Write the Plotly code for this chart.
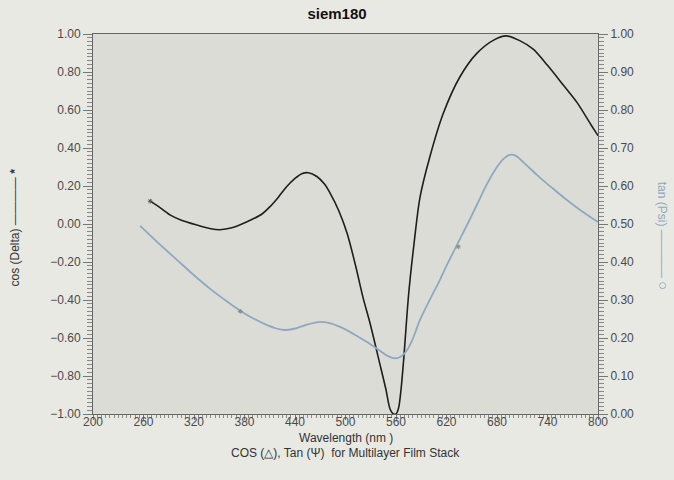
import plotly.graph_objects as go

# cos(Delta) curve (left axis)
cos_wl = [268, 280, 292, 305, 323, 340, 351, 365, 383, 400, 410, 420, 430, 440, 448, 456, 466, 475,
          482, 492, 502, 512, 521, 529, 541, 548, 553, 557, 560, 563, 566, 569, 575, 581, 588.5,
          600, 616, 636, 656, 676, 691, 707, 723, 740, 759, 775, 792, 800]
cos_val = [0.12, 0.085, 0.047, 0.02, -0.005, -0.025, -0.03, -0.02, 0.012, 0.05, 0.09, 0.14, 0.196,
           0.24, 0.265, 0.27, 0.25, 0.21, 0.16, 0.07, -0.05, -0.22, -0.39, -0.52, -0.74, -0.87,
           -0.975, -1.00, -1.00, -0.97, -0.87, -0.72, -0.37, -0.12, 0.14,
           0.35, 0.58, 0.775, 0.898, 0.968, 0.99, 0.965, 0.92, 0.835, 0.73, 0.64, 0.52, 0.465]

# tan(Psi) curve (right axis)
tan_wl = [256, 280, 300, 320, 340, 360, 375, 390, 405, 418, 428, 440, 455, 468, 480, 495, 510, 525,
          540, 550, 557, 563, 568, 573, 580, 588, 600, 610, 620, 632, 645, 656, 668, 680, 688, 695,
          702, 715, 727, 739, 751, 763, 780, 800]
tan_val = [0.495, 0.445, 0.405, 0.365, 0.328, 0.295, 0.272, 0.252, 0.236, 0.225, 0.221, 0.225,
           0.236, 0.242, 0.24, 0.228, 0.21, 0.19, 0.168, 0.153, 0.147, 0.148, 0.155, 0.168, 0.198,
           0.245, 0.30, 0.343, 0.39, 0.443, 0.50, 0.55, 0.605, 0.65, 0.672, 0.682, 0.68, 0.655,
           0.63, 0.607, 0.585, 0.563, 0.535, 0.505]

# sparse point markers
cos_mark_wl = [268]
cos_mark_val = [0.12]
tan_mark_wl = [375, 634]
tan_mark_val = [0.27, 0.44]

FONT = "Liberation Sans Narrow, Liberation Sans, Arial, sans-serif"
BLUE = "#8ea8c0"
PAPER = "#e9e9e4"

fig = go.Figure()
fig.add_trace(go.Scatter(x=cos_wl, y=cos_val, mode="lines",
                         line=dict(color="#1e1e1e", width=1.6, shape="spline", smoothing=0.8),
                         yaxis="y", showlegend=False))
fig.add_trace(go.Scatter(x=tan_wl, y=tan_val, mode="lines",
                         line=dict(color=BLUE, width=1.8, shape="spline", smoothing=0.8),
                         yaxis="y2", showlegend=False))
fig.add_trace(go.Scatter(x=cos_mark_wl, y=cos_mark_val, mode="markers",
                         marker=dict(symbol="asterisk", size=4, color="#555", line=dict(width=1, color="#555")),
                         yaxis="y", showlegend=False))
fig.add_trace(go.Scatter(x=tan_mark_wl, y=tan_mark_val, mode="markers",
                         marker=dict(symbol="asterisk", size=4, color="#8a8a8a", line=dict(width=1, color="#8a8a8a")),
                         yaxis="y2", showlegend=False))

tickfont = dict(family=FONT, size=12, color="#4a4a4a")

fig.update_layout(
    width=674, height=480,
    margin=dict(l=93, r=76, t=34, b=66),
    paper_bgcolor=PAPER,
    plot_bgcolor="#dcdcd7",
    title=dict(text="<b>siem180</b>", x=0.5, xanchor="center", y=0.972, yanchor="middle",
               font=dict(family=FONT, size=15, color="#111")),
    xaxis=dict(range=[200, 800], tick0=200, dtick=60, showgrid=False, zeroline=False,
               showline=True, linecolor="#666", linewidth=1, mirror=True,
               ticks="outside", ticklen=5, tickcolor="#777", tickfont=tickfont,
               ticklabelstandoff=-8,
               minor=dict(dtick=5, ticks="outside", ticklen=3, tickcolor="#888", showgrid=False)),
    yaxis=dict(range=[-1, 1], dtick=0.2, tickformat=".2f", showgrid=False, zeroline=False,
               showline=True, linecolor="#666", linewidth=1,
               ticks="outside", ticklen=9, tickcolor="#777", tickfont=tickfont,
               minor=dict(dtick=0.02, ticks="outside", ticklen=5, tickcolor="#888", showgrid=False)),
    yaxis2=dict(range=[0, 1], dtick=0.1, tickformat=".2f", overlaying="y", side="right",
                showgrid=False, zeroline=False, showline=True, linecolor="#666", linewidth=1,
                ticks="outside", ticklen=9, tickcolor="#777", tickfont=tickfont,
                minor=dict(dtick=0.01, ticks="outside", ticklen=5, tickcolor="#888", showgrid=False)),
    annotations=[
        dict(text="Wavelength (nm )", xref="paper", yref="paper", x=0.5, y=-0.087,
             showarrow=False, font=dict(family=FONT, size=12, color="#333")),
        dict(text="COS (\u25b3), Tan (\u03a8)  for Multilayer Film Stack", xref="paper", yref="paper",
             x=0.5, y=-0.127, showarrow=False, font=dict(family=FONT, size=12, color="#333")),
        dict(text="cos (Delta) \u2014\u2014\u2014\u2014 <b>*</b>", xref="paper", yref="paper",
             x=-0.155, y=0.49, xanchor="center", yanchor="middle", textangle=-90,
             showarrow=False, font=dict(family=FONT, size=12, color="#333")),
        dict(text="tan (Psi) \u2014\u2014\u2014\u2014 <span style='font-size:15px'>\u25cb</span>",
             xref="paper", yref="paper",
             x=1.13, y=0.47, xanchor="center", yanchor="middle", textangle=90,
             showarrow=False, font=dict(family=FONT, size=12, color=BLUE)),
    ],
)

post = ("document.body.style.margin='0';document.body.style.padding='0';"
        "document.body.style.background='%s';document.documentElement.style.background='%s';" % (PAPER, PAPER))

fig.write_html("out.html", post_script=post, config={"displayModeBar": False})
